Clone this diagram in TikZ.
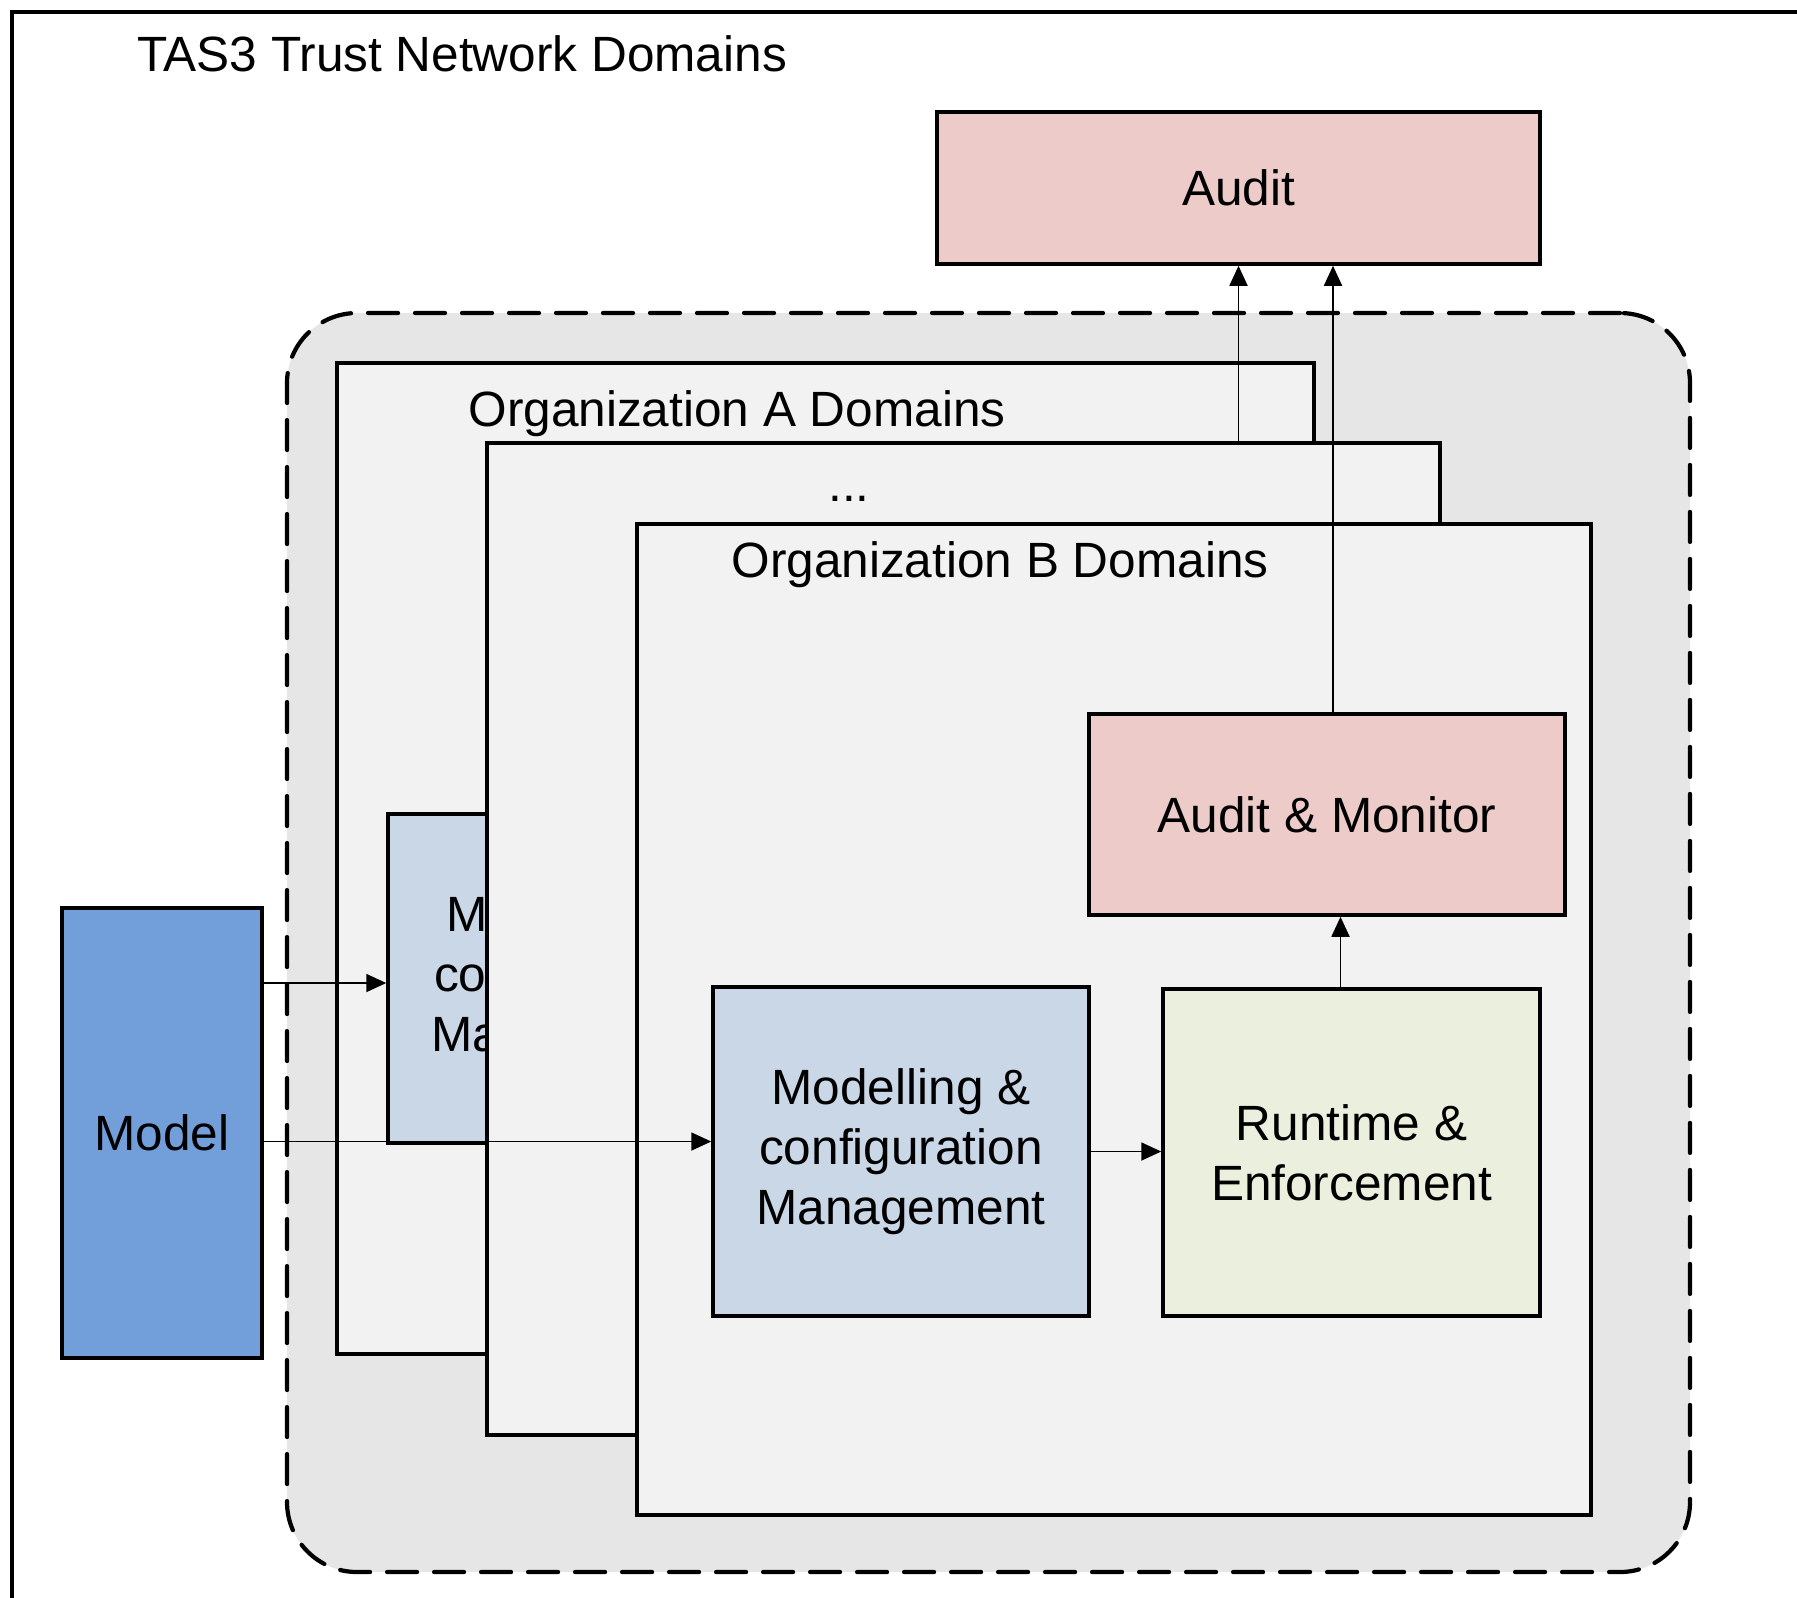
\documentclass[tikz,border=0pt]{standalone}
\usepackage{fontspec}
\setmainfont{Liberation Sans}
\usetikzlibrary{arrows.meta}

\definecolor{auditpink}{HTML}{ECCBC9}
\definecolor{modblue}{HTML}{C9D7E6}
\definecolor{rungreen}{HTML}{EBEFDD}
\definecolor{modelblue}{HTML}{729FDA}
\definecolor{trustgray}{HTML}{E6E6E6}
\definecolor{orggray}{HTML}{F2F2F2}

\tikzset{
  every node/.style={font=\fontsize{14.1}{17}\selectfont, align=center, inner sep=0pt},
  block/.style={draw, line width=1pt, fill=#1},
  org box/.style={draw, line width=1pt, fill=orggray},
  trust area/.style={draw, line width=1.2pt, dash pattern=on 3mm off 1.7mm, line cap=round, rounded corners=7mm, fill=trustgray},
  arr/.style={-{Triangle[length=2mm,width=1.8mm]}, line width=0.5pt}
}

\begin{document}
\begin{tikzpicture}[x=0.1mm, y=-0.1mm]
  \useasboundingbox (0,0) rectangle (1797,1597);

  \draw [line width=1pt] (12,1610) -- (12,12) -- (1810,12);
  \node (title) at (462,54) {TAS3 Trust Network Domains};

  \node [block=auditpink, minimum width=60.3mm, minimum height=15.2mm] (audit) at (1238.5,188) {Audit};

  \node [trust area, minimum width=140.3mm, minimum height=125.9mm] (trust) at (988.5,942.5) {};

  \node [org box, minimum width=97.7mm, minimum height=99.1mm] (orgA) at (825.5,858.5) {};
  \node (orgAlabel) at (737,414) {Organization A Domains};
  \node [block=modblue, minimum width=37.6mm, minimum height=32.9mm] (modA) at (576,978.5) {Modelling \&\\configuration\\Management};

  \node [org box, minimum width=95.3mm, minimum height=99.2mm] (orgDots) at (963.5,939) {};
  \node (dots) at (849,499) {...};

  \node [org box, minimum width=95.4mm, minimum height=99.1mm] (orgB) at (1114,1019.5) {};
  \node (orgBlabel) at (1000,565) {Organization B Domains};

  \node [block=auditpink, minimum width=47.6mm, minimum height=20.1mm] (monB) at (1327,814.5) {Audit \& Monitor};
  \node [block=modblue, minimum width=37.6mm, minimum height=32.9mm] (modB) at (901,1151.5) {Modelling \&\\configuration\\Management};
  \node [block=rungreen, minimum width=37.7mm, minimum height=32.7mm] (runB) at (1351.5,1152.5) {Runtime \&\\Enforcement};

  \node [block=modelblue, minimum width=20mm, minimum height=45mm] (model) at (162,1133) {Model};

  \draw [arr] ([yshift=-0.45mm]model.east |- modA.west) -- ([yshift=-0.45mm]modA.west);
  \draw [arr] ([yshift=1mm]model.east |- modB.west) -- ([yshift=1mm]modB.west);
  \draw [arr] (modB.east) -- (modB.east -| runB.west);
  \draw [arr] ([xshift=-1.1mm]runB.north) -- ([xshift=-1.1mm]runB.north |- monB.south);
  \draw [arr] ([xshift=0.6mm]monB.north) -- ([xshift=0.6mm]monB.north |- audit.south);
  \draw [arr] (audit.south |- orgDots.north) -- (audit.south);
\end{tikzpicture}
\end{document}
